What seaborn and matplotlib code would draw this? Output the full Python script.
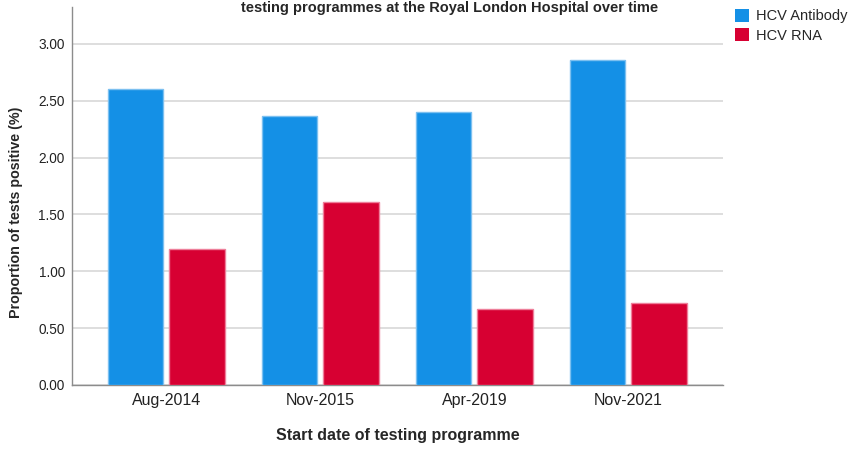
import matplotlib
matplotlib.use("Agg")
import pandas as pd
import seaborn as sns
import matplotlib.pyplot as plt
from matplotlib.patches import Patch

# chart values
dates = ["Aug-2014", "Nov-2015", "Apr-2019", "Nov-2021"]
antibody = [2.60, 2.37, 2.40, 2.86]
rna = [1.20, 1.61, 0.67, 0.72]
tests = ["HCV Antibody", "HCV RNA"]
y_ticks = [0.0, 0.5, 1.0, 1.5, 2.0, 2.5, 3.0]

fill = {"HCV Antibody": "#1490e6", "HCV RNA": "#d70032"}
edge = {"HCV Antibody": "#7cc0f0", "HCV RNA": "#ee7f9a"}

# long table for seaborn
df = pd.DataFrame({
    "date": dates * 2,
    "value": antibody + rna,
    "test": [tests[0]] * len(dates) + [tests[1]] * len(dates),
})

sns.set_style("white")
plt.rcParams["font.family"] = ["Liberation Sans", "DejaVu Sans"]

fig = plt.figure(figsize=(8.51, 4.5), dpi=100)
ax = fig.add_axes([71.7 / 851, 65 / 450, 651.3 / 851, 378 / 450])

sns.barplot(data=df, x="date", y="value", hue="test", hue_order=tests,
            order=dates, palette=fill, saturation=1, width=0.8, gap=0.1,
            legend=False, linewidth=1, ax=ax, zorder=3)

# lighter outline on each bar, as in the original
for cont, t in zip(ax.containers, tests):
    for bar in cont:
        bar.set_edgecolor(edge[t])

ax.set_xlim(-0.615, 3.615)
ax.set_ylim(0, 3.325)
ax.set_yticks(y_ticks)
ax.set_yticklabels([f"{v:.2f}" for v in y_ticks])
ax.yaxis.grid(True, color="#d4d4d4", linewidth=1.1, zorder=0)
ax.set_axisbelow(True)

ax.tick_params(axis="x", length=0, pad=6, labelsize=11.5, labelcolor="#222222")
ax.tick_params(axis="y", length=0, pad=5, labelsize=9.8, labelcolor="#222222")

sns.despine(ax=ax)
for side in ["left", "bottom"]:
    ax.spines[side].set_color("#8c8c8c")
    ax.spines[side].set_linewidth(1)

ax.set_xlabel("Start date of testing programme", fontsize=11.5,
              fontweight="bold", labelpad=14)
ax.set_ylabel("Proportion of tests positive (%)", fontsize=10.3,
              fontweight="bold", labelpad=11)
ax.yaxis.label.set_y(0.458)

# title, pushed to the very top edge
fig.text(450 / 851, 1 - 1 / 450, "testing programmes at the Royal London Hospital over time",
         ha="center", va="top", fontsize=10.5, fontweight="bold")

handles = [Patch(facecolor=fill[t], edgecolor="none", label=t) for t in tests]
fig.legend(handles=handles, loc="upper left", bbox_to_anchor=(735 / 851, 1 - 9 / 450),
           frameon=False, fontsize=10.5, handlelength=0.95, handleheight=0.95,
           handletextpad=0.5, labelspacing=0.35, borderpad=0, borderaxespad=0)

fig.savefig("out.png", dpi=100)
